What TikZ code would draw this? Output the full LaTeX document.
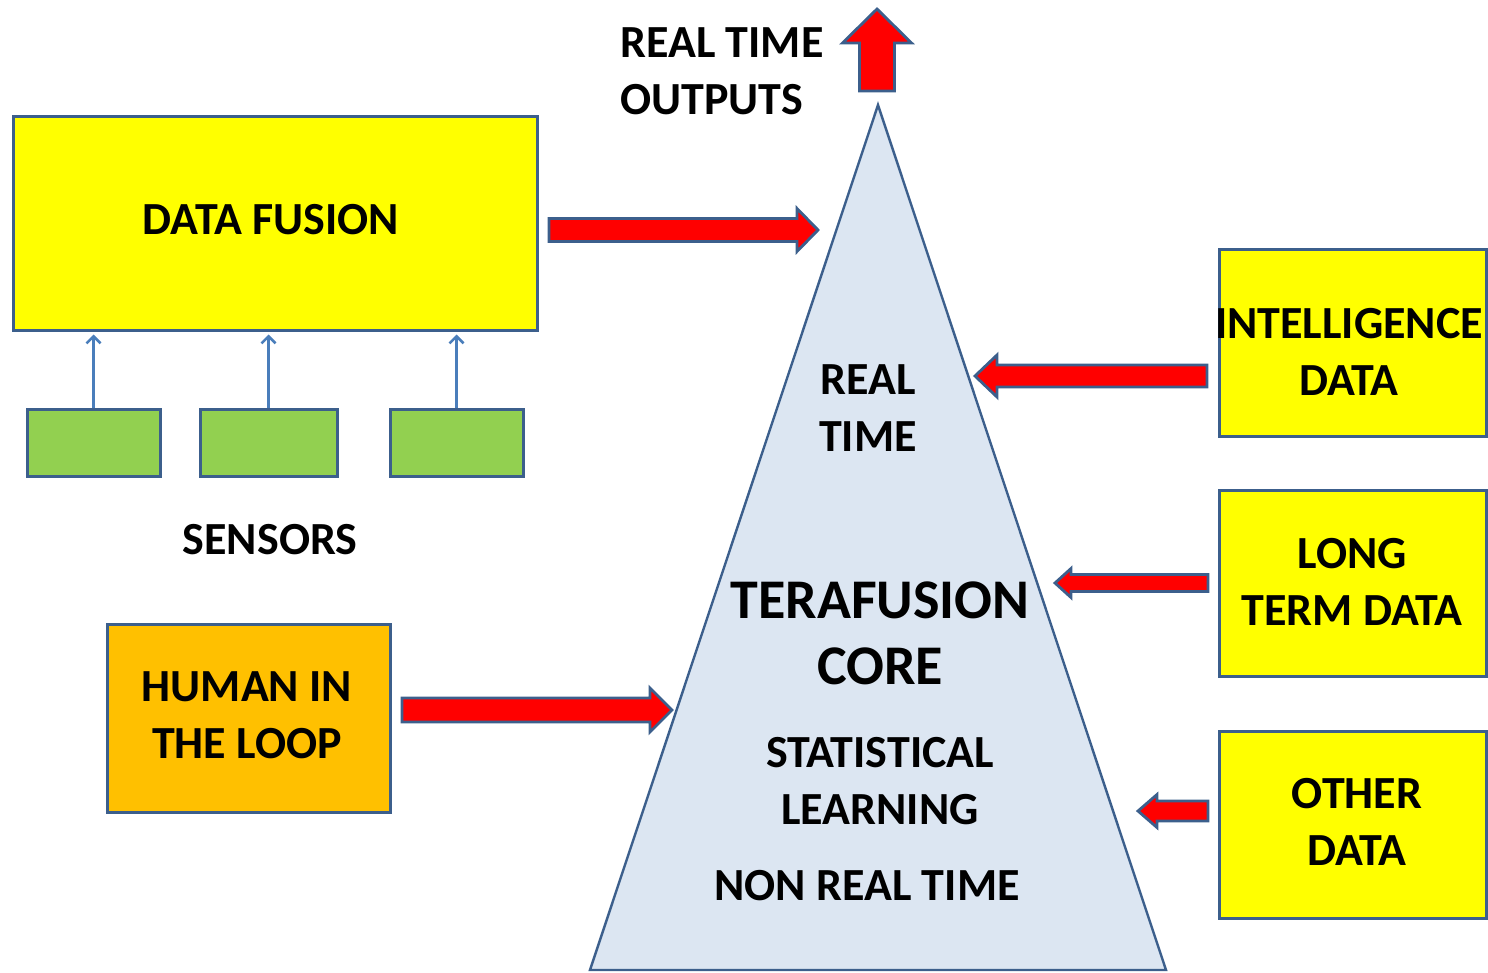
\documentclass[tikz,border=0pt]{standalone}
\usepackage{fontspec}
\setmainfont{Carlito}
\usepackage{xcolor}
\usepackage{tikz}
\usetikzlibrary{calc,arrows.meta}

\definecolor{edgeblue}{RGB}{60,95,140}
\definecolor{linkblue}{RGB}{74,126,187}
\definecolor{sensorgreen}{RGB}{146,208,80}
\definecolor{humanorange}{RGB}{255,192,0}
\definecolor{corefill}{RGB}{220,230,242}
\definecolor{boxyellow}{RGB}{255,255,0}

\tikzset{
  box/.style={draw=edgeblue, line width=1.5pt, inner sep=0pt},
  label/.style={inner sep=0pt, align=center, font=\fontsize{23}{28.5}\selectfont\bfseries},
  biglabel/.style={inner sep=0pt, align=center, font=\fontsize{28}{33}\selectfont\bfseries},
  fatarrow/.style={draw=edgeblue, fill=red, line width=1.4pt, line join=miter},
  sensorlink/.style={draw=linkblue, line width=1.3pt, -{Straight Barb[length=3.5pt,width=7pt]}}
}

\newcommand{\fatarrow}[5]{%
  \coordinate (h) at ($(#2)!#5!(#1)$);
  \draw[fatarrow] ($(#1)!#3!90:(#2)$) -- ($(h)!#3!90:(#2)$) -- ($(h)!#4!90:(#2)$)
    -- (#2) -- ($(h)!#4!-90:(#2)$) -- ($(h)!#3!-90:(#2)$) -- ($(#1)!#3!-90:(#2)$) -- cycle;
}

\begin{document}
\begin{tikzpicture}[x=0.5pt, y=-0.5pt]
            \useasboundingbox (0,0) rectangle (1488,973);
            \coordinate (apex) at (878,105);
            \coordinate (baseL) at (590,970);
            \coordinate (baseR) at (1166,970);
            \draw [draw=edgeblue, fill=corefill, line width=1.2pt] (apex) -- (baseR) -- (baseL) -- cycle;
            \node [box, fill=boxyellow, minimum width=262pt, minimum height=106.5pt] (fusion) at (275,223.5) {};
            \node [label] (fusiontxt) at (271,220) {DATA FUSION};
            \node [box, fill=sensorgreen, minimum width=66.5pt, minimum height=33.5pt] (s1) at (93.5,442.5) {};
            \node [box, fill=sensorgreen, minimum width=68.5pt, minimum height=33.5pt] (s2) at (268.5,442.5) {};
            \node [box, fill=sensorgreen, minimum width=66.5pt, minimum height=33.5pt] (s3) at (456.5,442.5) {};
            \draw [sensorlink] (s1.north) -- ([yshift=-1.5pt]s1.north |- fusion.south);
            \draw [sensorlink] (s2.north) -- ([yshift=-1.5pt]s2.north |- fusion.south);
            \draw [sensorlink] (s3.north) -- ([yshift=-1.5pt]s3.north |- fusion.south);
            \node [label] (sensors) at (270,540) {SENSORS};
            \node [box, fill=humanorange, minimum width=141.5pt, minimum height=94pt] (human) at (248.5,718) {};
            \node [label] (humantxt) at (247,715) {HUMAN IN\\THE LOOP};
            \node [box, fill=boxyellow, minimum width=133.5pt, minimum height=93pt] (intel) at (1352.5,343) {};
            \node [label] (inteltxt) at (1349,351.5) {INTELLIGENCE\\DATA};
            \node [box, fill=boxyellow, minimum width=133.5pt, minimum height=93pt] (longterm) at (1352.5,583) {};
            \node [label] (longtxt) at (1352,581.5) {LONG\\TERM DATA};
            \node [box, fill=boxyellow, minimum width=133.5pt, minimum height=93.5pt] (other) at (1352.5,824.5) {};
            \node [label] (othertxt) at (1357,821.5) {OTHER\\DATA};
            \node [label, anchor=west, align=left] (outputs) at (620,71.5) {REAL TIME\\OUTPUTS};
            \node [label] (realtime) at (868,408.5) {REAL\\TIME};
            \node [biglabel] (core) at (880,633) {TERAFUSION\\CORE};
            \node [label] (stat) at (880,781) {STATISTICAL\\LEARNING};
            \node [label] (nonreal) at (867,886) {NON REAL TIME};
            \coordinate (fusionTail) at (549,230);
            \coordinate (fusionTip) at (818,230);
            \coordinate (humanTail) at (402,710);
            \coordinate (humanTip) at (672,710);
            \coordinate (intelTail) at (1207,376);
            \coordinate (intelTip) at (975,376);
            \coordinate (longTail) at (1208,583);
            \coordinate (longTip) at (1055,583);
            \coordinate (otherTail) at (1208,811);
            \coordinate (otherTip) at (1138,811);
            \coordinate (outTail) at (877,91);
            \coordinate (outTip) at (877,9);
            \fatarrow{fusionTail}{fusionTip}{5.75pt}{10.75pt}{10.5pt}
            \fatarrow{humanTail}{humanTip}{6pt}{11pt}{11pt}
            \fatarrow{intelTail}{intelTip}{5.5pt}{10.5pt}{11pt}
            \fatarrow{longTail}{longTip}{4.25pt}{7.25pt}{8pt}
            \fatarrow{otherTail}{otherTip}{5pt}{8.25pt}{9.5pt}
            \fatarrow{outTail}{outTip}{8.75pt}{17.25pt}{17pt}
        \end{tikzpicture}
\end{document}
